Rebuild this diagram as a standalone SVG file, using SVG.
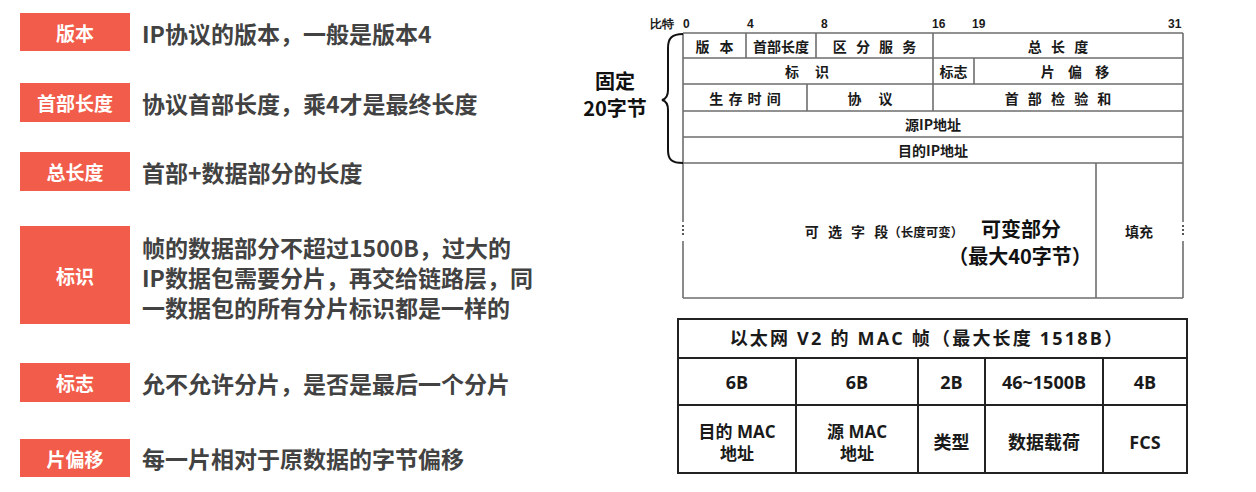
<svg xmlns="http://www.w3.org/2000/svg" width="1256" height="492" viewBox="0 0 1256 492">
<style>
.tag{fill:#f25c4a}
.tagt{font-family:"Noto Sans CJK SC","Noto Sans",sans-serif;font-weight:700;font-size:19px;fill:#ffffff;text-anchor:middle;dominant-baseline:central}
.desc{font-family:"Noto Sans CJK SC","Noto Sans",sans-serif;font-weight:700;font-size:23px;fill:#424242;dominant-baseline:central}
.hl{stroke:#6e6e6e;stroke-width:1.6;fill:none}
.ht{font-family:"Noto Sans CJK SC","Liberation Sans",sans-serif;font-weight:700;font-size:14px;fill:#1a1a1a;text-anchor:middle;dominant-baseline:central}
.bit{font-family:"Liberation Sans Narrow","Liberation Sans",sans-serif;font-weight:700;font-size:12px;fill:#1a1a1a;dominant-baseline:central}
.big{font-family:"Noto Sans CJK SC","Noto Sans",sans-serif;font-weight:700;fill:#111;text-anchor:middle;dominant-baseline:central}
.ml{stroke:#222;stroke-width:2;fill:none}
.mt{font-family:"Open Sans","Noto Sans CJK SC",sans-serif;font-weight:700;font-size:18px;fill:#1a1a1a;text-anchor:middle;dominant-baseline:central}
.mt2{font-family:"Open Sans","Noto Sans CJK SC",sans-serif;font-weight:700;font-size:17px;fill:#1a1a1a;text-anchor:middle;dominant-baseline:central}
</style>
<rect width="1256" height="492" fill="#ffffff"/>

<!-- left legend -->
<g id="field-version">
<rect class="tag" x="20" y="13" width="110" height="38"/>
<text class="tagt" x="75" y="32">版本</text>
<text class="desc" x="142" y="33">IP协议的版本，一般是版本4</text>
</g>
<g id="field-ihl">
<rect class="tag" x="20" y="83" width="110" height="39"/>
<text class="tagt" x="75" y="102.5">首部长度</text>
<text class="desc" x="142" y="103">协议首部长度，乘4才是最终长度</text>
</g>
<g id="field-total-length">
<rect class="tag" x="20" y="152" width="110" height="39"/>
<text class="tagt" x="75" y="171.5">总长度</text>
<text class="desc" x="142" y="172">首部+数据部分的长度</text>
</g>
<g id="field-identification">
<rect class="tag" x="20" y="226" width="110" height="98"/>
<text class="tagt" x="75" y="275">标识</text>
<text class="desc" x="142" y="247">帧的数据部分不超过1500B，过大的</text>
<text class="desc" x="142" y="277">IP数据包需要分片，再交给链路层，同</text>
<text class="desc" x="142" y="307">一数据包的所有分片标识都是一样的</text>
</g>
<g id="field-flags">
<rect class="tag" x="20" y="363" width="110" height="39"/>
<text class="tagt" x="75" y="382.5">标志</text>
<text class="desc" x="142" y="383">允不允许分片，是否是最后一个分片</text>
</g>
<g id="field-fragment-offset">
<rect class="tag" x="20" y="439" width="110" height="38"/>
<text class="tagt" x="75" y="458">片偏移</text>
<text class="desc" x="142" y="458">每一片相对于原数据的字节偏移</text>
</g>

<!-- IP header -->
<g id="ip-header">
<text class="bit" x="650" y="24">比特</text>
<text class="bit" x="683" y="24">0</text>
<text class="bit" x="747" y="24">4</text>
<text class="bit" x="821" y="24">8</text>
<text class="bit" x="932" y="24">16</text>
<text class="bit" x="972" y="24">19</text>
<text class="bit" x="1168" y="24">31</text>
<path class="hl" d="M683,33 H1183 M683,58 H1183 M683,84 H1183 M683,111 H1183 M683,137 H1183 M683,163 H1183 M683,298 H1183"/>
<path class="hl" d="M683,33 V222 M683,241 V298 M1183,33 V222 M1183,241 V298"/>
<path class="hl" d="M746,33 V58 M816,33 V58 M933,33 V58 M933,58 V84 M974,58 V84 M807,84 V111 M933,84 V111 M1096,163 V298"/>
<g fill="#555">
<rect x="682" y="225" width="2" height="2"/><rect x="682" y="229" width="2" height="2"/><rect x="682" y="233" width="2" height="2"/>
<rect x="1182" y="225" width="2" height="2"/><rect x="1182" y="229" width="2" height="2"/><rect x="1182" y="233" width="2" height="2"/>
</g>
<text class="ht" x="714.5" y="45.5" style="word-spacing:7px">版 本</text>
<text class="ht" x="781" y="45.5">首部长度</text>
<text class="ht" x="874.5" y="45.5" style="word-spacing:6px">区 分 服 务</text>
<text class="ht" x="1058" y="45.5" style="word-spacing:6px">总 长 度</text>
<text class="ht" x="807" y="71" style="word-spacing:13px">标 识</text>
<text class="ht" x="953.5" y="71">标志</text>
<text class="ht" x="1075" y="71" style="word-spacing:10px">片 偏 移</text>
<text class="ht" x="745" y="97.5" style="word-spacing:2px">生 存 时 间</text>
<text class="ht" x="870" y="97.5" style="word-spacing:14px">协 议</text>
<text class="ht" x="1058" y="97.5" style="word-spacing:6px">首 部 检 验 和</text>
<text class="ht" x="933" y="124">源IP地址</text>
<text class="ht" x="933" y="150">目的IP地址</text>
<text class="ht" x="884" y="231"><tspan style="word-spacing:6px">可 选 字 段</tspan><tspan font-size="12.5">（长度可变）</tspan></text>
<text class="big" x="1021" y="228" font-size="20">可变部分</text>
<text class="big" x="1020" y="255" font-size="20">（最大40字节）</text>
<text class="ht" x="1139" y="231">填充</text>
</g>
<g id="fixed-brace">
<path d="M683,34 C672,34 668,38 668,48 L668,90 C668,96 666,99 662,100 C666,101 668,104 668,110 L668,150 C668,160 672,163 683,163" stroke="#111" stroke-width="2" fill="none"/>
<text class="big" x="615" y="80" font-size="20">固定</text>
<text class="big" x="615" y="107" font-size="20">20字节</text>
</g>

<!-- MAC frame -->
<g id="mac-frame">
<rect class="ml" x="678" y="319" width="509" height="154"/>
<path class="ml" d="M678,358 H1187 M678,405 H1187 M796,358 V473 M918,358 V473 M985,358 V473 M1103,358 V473"/>
<text class="mt" x="927" y="338" font-size="21" letter-spacing="2.2">以太网 V2 的 MAC 帧（最大长度 1518B）</text>
<text class="mt" x="737" y="382">6B</text>
<text class="mt" x="857" y="382">6B</text>
<text class="mt" x="951.5" y="382">2B</text>
<text class="mt" x="1044" y="382">46~1500B</text>
<text class="mt" x="1145" y="382">4B</text>
<text class="mt2" x="737" y="431">目的 MAC</text>
<text class="mt2" x="737" y="453">地址</text>
<text class="mt2" x="857" y="431">源 MAC</text>
<text class="mt2" x="857" y="453">地址</text>
<text class="mt" x="951.5" y="442">类型</text>
<text class="mt" x="1044" y="442">数据载荷</text>
<text class="mt" x="1145" y="442">FCS</text>
</g>
</svg>
